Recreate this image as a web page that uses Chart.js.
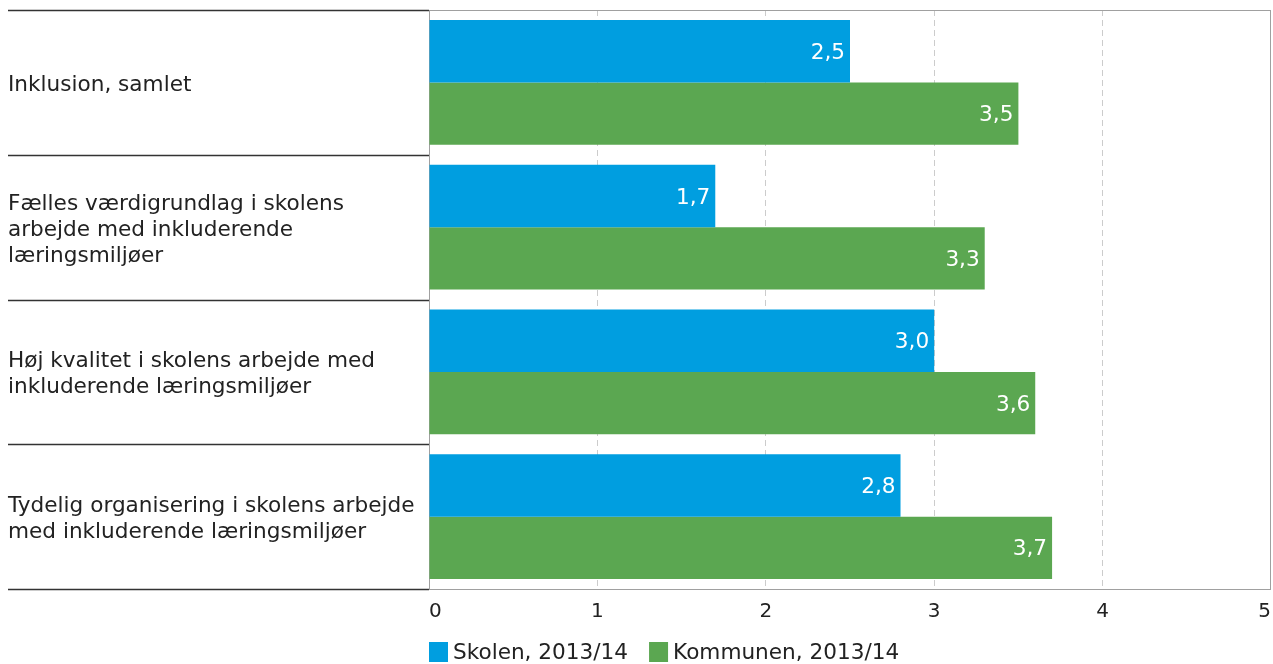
<!DOCTYPE html>
<html>
<head>
<meta charset="utf-8">
<script src="https://cdn.jsdelivr.net/npm/chart.js@4/dist/chart.umd.min.js"></script>
<style>
  html, body { margin: 0; padding: 0; background: #fff; }
  #wrap { width: 1273px; height: 664px; position: relative; }
</style>
</head>
<body>
<div id="wrap"><canvas id="c" width="1273" height="664"></canvas></div>
<script>
const categories = [
  ["Inklusion, samlet"],
  ["Fælles værdigrundlag i skolens", "arbejde med inkluderende", "læringsmiljøer"],
  ["Høj kvalitet i skolens arbejde med", "inkluderende læringsmiljøer"],
  ["Tydelig organisering i skolens arbejde", "med inkluderende læringsmiljøer"]
];
const seriesNames = ["Skolen, 2013/14", "Kommunen, 2013/14"];
const skolenValues = [2.5, 1.7, 3.0, 2.8];
const kommunenValues = [3.5, 3.3, 3.6, 3.7];
const xTicks = [0, 1, 2, 3, 4, 5];

const BLUE = "#009ee0";
const GREEN = "#5ba751";
const FONT = "'DejaVu Sans', Verdana, sans-serif";
const LABEL_FONT = "21.6px " + FONT;

const decorPlugin = {
  id: 'decor',
  beforeDatasetsDraw(chart) {
    const ctx = chart.ctx, a = chart.chartArea;
    ctx.save();
    ctx.strokeStyle = '#a0a0a0';
    ctx.lineWidth = 1;
    ctx.strokeRect(Math.round(a.left) + 0.5, Math.round(a.top) + 0.5,
                   Math.round(a.right - a.left) - 1, Math.round(a.bottom - a.top));
    ctx.restore();
  },
  afterDraw(chart) {
    const ctx = chart.ctx, a = chart.chartArea, ys = chart.scales.y;
    ctx.save();
    // separators
    ctx.strokeStyle = '#333333';
    ctx.lineWidth = 1.5;
    const n = categories.length;
    for (let i = 0; i <= n; i++) {
      const py = Math.round(a.top + (a.bottom - a.top) * i / n) + 0.5;
      ctx.beginPath();
      ctx.moveTo(8, py);
      ctx.lineTo(a.left, py);
      ctx.stroke();
    }
    // category labels
    ctx.font = LABEL_FONT;
    ctx.fillStyle = '#222222';
    ctx.textAlign = 'left';
    ctx.textBaseline = 'middle';
    const lh = 26;
    categories.forEach((lines, i) => {
      const cy = ys.getPixelForValue(i) + 3;
      const y0 = cy - (lines.length - 1) * lh / 2;
      lines.forEach((t, k) => ctx.fillText(t, 8, y0 + k * lh));
    });
    // data labels
    ctx.font = LABEL_FONT;
    ctx.fillStyle = '#ffffff';
    ctx.textAlign = 'right';
    chart.data.datasets.forEach((ds, di) => {
      const meta = chart.getDatasetMeta(di);
      meta.data.forEach((bar, i) => {
        const txt = ds.data[i].toFixed(1).replace('.', ',');
        ctx.fillText(txt, bar.x - 5, bar.y + 2);
      });
    });
    // legend
    ctx.font = LABEL_FONT;
    ctx.textAlign = 'left';
    let lx = Math.round(a.left);
    const ly = 652;
    const colors = [BLUE, GREEN];
    seriesNames.forEach((name, i) => {
      ctx.fillStyle = colors[i];
      ctx.fillRect(lx, ly - 10, 19, 20);
      ctx.fillStyle = '#222222';
      ctx.fillText(name, lx + 24, ly + 1);
      lx += 24 + ctx.measureText(name).width + 21;
    });
    ctx.restore();
  }
};

new Chart(document.getElementById('c'), {
  type: 'bar',
  data: {
    labels: categories,
    datasets: [
      { label: seriesNames[0], data: skolenValues, backgroundColor: BLUE, barPercentage: 1.0, categoryPercentage: 0.862 },
      { label: seriesNames[1], data: kommunenValues, backgroundColor: GREEN, barPercentage: 1.0, categoryPercentage: 0.862 }
    ]
  },
  options: {
    indexAxis: 'y',
    responsive: false,
    animation: false,
    devicePixelRatio: 1,
    layout: { padding: { left: 8, top: 10, right: 2, bottom: 0 } },
    plugins: { legend: { display: false }, tooltip: { enabled: false }, title: { display: false } },
    scales: {
      x: {
        min: 0, max: 5,
        afterBuildTicks(scale) { scale.ticks = xTicks.map(v => ({ value: v })); },
        afterFit(scale) { scale.paddingRight = 0; scale.paddingLeft = 0; scale.height = 75; },
        grid: {
          color: (c) => (c.tick && (c.tick.value === 0 || c.tick.value === 5)) ? 'rgba(0,0,0,0)' : '#cccccc',
          lineWidth: 1,
          drawTicks: false
        },
        border: { display: false, dash: [6, 4] },
        ticks: { color: '#222', font: { family: FONT, size: 20 }, padding: 11, maxRotation: 0, align: 'inner' }
      },
      y: {
        afterFit(scale) { scale.width = 421; scale.paddingTop = 0; scale.paddingBottom = 0; },
        grid: { display: false },
        border: { display: false },
        ticks: { display: false }
      }
    }
  },
  plugins: [decorPlugin]
});
</script>
</body>
</html>
